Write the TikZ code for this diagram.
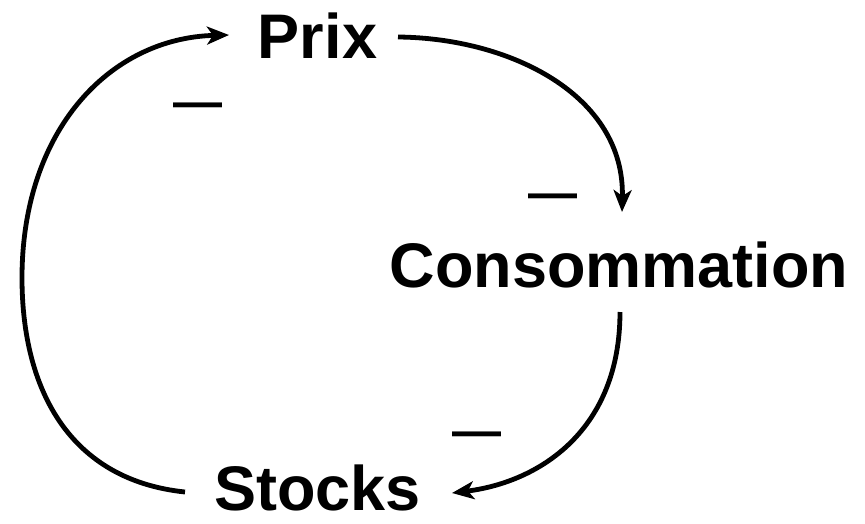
\documentclass[tikz,border=0pt]{standalone}
\usepackage{fontspec}
\setmainfont{Liberation Sans}
\usetikzlibrary{arrows.meta}
\begin{document}
\begin{tikzpicture}[x=1pt,y=-1pt,
  label/.style={font=\fontsize{63}{70}\selectfont\bfseries, inner sep=0pt, anchor=base},
  sign/.style={font=\fontsize{49}{50}\selectfont\bfseries, inner sep=0pt, anchor=base},
  link/.style={line width=4.8pt, -{Stealth[length=22pt,width=18pt,inset=6pt]}}]
  \useasboundingbox (0,0) rectangle (865,523);
  % variables of the loop
  \node[label] (prix) at (317.5,58) {Prix};
  \node[label] (conso) at (619,287) {Consommation};
  \node[label] (stocks) at (317.5,510) {Stocks};
  % free ends of the links
  \coordinate (p1) at (398,37);
  \coordinate (c1) at (622,212);
  \coordinate (c2) at (620,312);
  \coordinate (s1) at (452,493);
  \coordinate (s2) at (185,492);
  \coordinate (p2) at (229,35);
  \coordinate (w) at (22,278);
  % links
  \draw[link] (p1) .. controls (510,38) and (625,95) .. (c1);
  \draw[link] (c2) .. controls (620,430) and (540,482) .. (s1);
  \draw[link] (s2) .. controls (70,480) and (22,390) .. (w)
              .. controls (22,130) and (110,38) .. (p2);
  % signs
  \node[sign] (m1) at (198,118) {—};
  \node[sign] (m2) at (552.5,209) {—};
  \node[sign] (m3) at (477,447) {—};
\end{tikzpicture}
\end{document}
